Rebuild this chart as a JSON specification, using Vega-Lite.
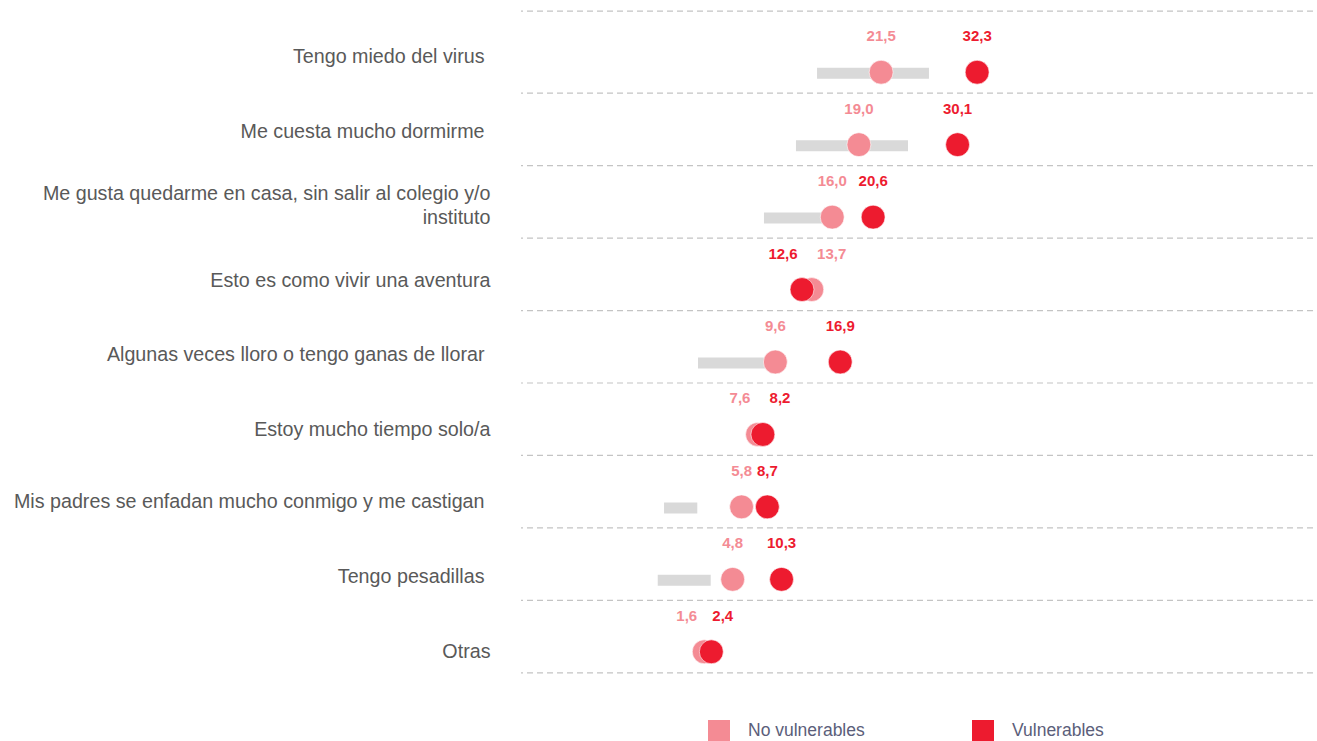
{
  "$schema": "https://vega.github.io/schema/vega-lite/v6.json",
  "width": 792,
  "height": 652,
  "autosize": {"type": "none"},
  "padding": {"left": 521, "top": 36, "right": 4, "bottom": 53},
  "background": "white",
  "config": {
    "view": {"stroke": null},
    "locale": {"number": {"decimal": ",", "thousands": ".", "grouping": [3], "currency": ["", " €"]}}
  },
  "datasets": {
    "puntos": [
      {"cat": "Tengo miedo del virus", "grupo": "No vulnerables", "valor": 21.5, "etiquetaX": 21.5},
      {"cat": "Me cuesta mucho dormirme", "grupo": "No vulnerables", "valor": 19.0, "etiquetaX": 19.0},
      {"cat": "Me gusta quedarme en casa, sin salir al colegio y/o instituto", "grupo": "No vulnerables", "valor": 16.0, "etiquetaX": 16.0},
      {"cat": "Esto es como vivir una aventura", "grupo": "No vulnerables", "valor": 13.7, "etiquetaX": 15.94},
      {"cat": "Algunas veces lloro o tengo ganas de llorar", "grupo": "No vulnerables", "valor": 9.6, "etiquetaX": 9.6},
      {"cat": "Estoy mucho tiempo solo/a", "grupo": "No vulnerables", "valor": 7.6, "etiquetaX": 5.62},
      {"cat": "Mis padres se enfadan mucho conmigo y me castigan", "grupo": "No vulnerables", "valor": 5.8, "etiquetaX": 5.8},
      {"cat": "Tengo pesadillas", "grupo": "No vulnerables", "valor": 4.8, "etiquetaX": 4.8},
      {"cat": "Otras", "grupo": "No vulnerables", "valor": 1.6, "etiquetaX": -0.37},
      {"cat": "Tengo miedo del virus", "grupo": "Vulnerables", "valor": 32.3, "etiquetaX": 32.3},
      {"cat": "Me cuesta mucho dormirme", "grupo": "Vulnerables", "valor": 30.1, "etiquetaX": 30.1},
      {"cat": "Me gusta quedarme en casa, sin salir al colegio y/o instituto", "grupo": "Vulnerables", "valor": 20.6, "etiquetaX": 20.6},
      {"cat": "Esto es como vivir una aventura", "grupo": "Vulnerables", "valor": 12.6, "etiquetaX": 10.46},
      {"cat": "Algunas veces lloro o tengo ganas de llorar", "grupo": "Vulnerables", "valor": 16.9, "etiquetaX": 16.9},
      {"cat": "Estoy mucho tiempo solo/a", "grupo": "Vulnerables", "valor": 8.2, "etiquetaX": 10.12},
      {"cat": "Mis padres se enfadan mucho conmigo y me castigan", "grupo": "Vulnerables", "valor": 8.7, "etiquetaX": 8.7},
      {"cat": "Tengo pesadillas", "grupo": "Vulnerables", "valor": 10.3, "etiquetaX": 10.3},
      {"cat": "Otras", "grupo": "Vulnerables", "valor": 2.4, "etiquetaX": 3.68}
    ],
    "rangos": [
      {"cat": "Tengo miedo del virus", "desde": 14.29, "hasta": 26.88},
      {"cat": "Me cuesta mucho dormirme", "desde": 11.92, "hasta": 24.52},
      {"cat": "Me gusta quedarme en casa, sin salir al colegio y/o instituto", "desde": 8.32, "hasta": 16.0},
      {"cat": "Algunas veces lloro o tengo ganas de llorar", "desde": 0.9, "hasta": 9.6},
      {"cat": "Mis padres se enfadan mucho conmigo y me castigan", "desde": -2.92, "hasta": 0.82},
      {"cat": "Tengo pesadillas", "desde": -3.63, "hasta": 2.33}
    ]
  },
  "encoding": {
    "y": {
      "field": "cat",
      "type": "nominal",
      "sort": [
        "Tengo miedo del virus",
        "Me cuesta mucho dormirme",
        "Me gusta quedarme en casa, sin salir al colegio y/o instituto",
        "Esto es como vivir una aventura",
        "Algunas veces lloro o tengo ganas de llorar",
        "Estoy mucho tiempo solo/a",
        "Mis padres se enfadan mucho conmigo y me castigan",
        "Tengo pesadillas",
        "Otras"
      ],
      "scale": {"type": "band", "paddingInner": 0, "paddingOuter": 0},
      "axis": {
        "title": null,
        "domain": false,
        "ticks": false,
        "grid": false,
        "labelPadding": {
          "condition": {
            "test": "datum.value == 'Tengo miedo del virus' || datum.value == 'Me cuesta mucho dormirme' || datum.value == 'Algunas veces lloro o tengo ganas de llorar' || datum.value == 'Mis padres se enfadan mucho conmigo y me castigan' || datum.value == 'Tengo pesadillas'",
            "value": 37
          },
          "value": 31
        },
        "labelFont": "Liberation Sans",
        "labelFontSize": 19.7,
        "labelColor": "#595959",
        "labelLimit": 520,
        "labelOffset": {
          "condition": [
            {"test": "datum.value == 'Tengo miedo del virus'", "value": -15},
            {"test": "datum.value == 'Me cuesta mucho dormirme'", "value": -13},
            {"test": "datum.value == 'Me gusta quedarme en casa, sin salir al colegio y/o instituto'", "value": -23},
            {"test": "datum.value == 'Esto es como vivir una aventura'", "value": -9},
            {"test": "datum.value == 'Algunas veces lloro o tengo ganas de llorar'", "value": -7},
            {"test": "datum.value == 'Estoy mucho tiempo solo/a'", "value": -4},
            {"test": "datum.value == 'Mis padres se enfadan mucho conmigo y me castigan'", "value": -5},
            {"test": "datum.value == 'Tengo pesadillas'", "value": -2}
          ],
          "value": 0
        },
        "labelLineHeight": 24,
        "labelExpr": "datum.label == 'Me gusta quedarme en casa, sin salir al colegio y/o instituto' ? ['Me gusta quedarme en casa, sin salir al colegio y/o', 'instituto'] : datum.label"
      }
    }
  },
  "layer": [
    {
      "data": {"name": "puntos"},
      "transform": [{"filter": "datum.grupo == 'Vulnerables'"}],
      "mark": {"type": "rule", "stroke": "#c4c4c4", "strokeWidth": 1.2, "strokeDash": [6, 4], "yOffset": 21},
      "encoding": {}
    },
    {
      "data": {"name": "puntos"},
      "transform": [{"filter": "datum.grupo == 'Vulnerables' && datum.cat == 'Tengo miedo del virus'"}],
      "mark": {"type": "rule", "stroke": "#c4c4c4", "strokeWidth": 1.2, "strokeDash": [6, 4], "yOffset": -61},
      "encoding": {}
    },
    {
      "data": {"name": "rangos"},
      "mark": {"type": "bar", "size": 11, "color": "#d9d9d9", "yOffset": 1},
      "encoding": {
        "x": {"field": "desde", "type": "quantitative", "scale": {"domain": [-19.01, 70.08], "nice": false, "zero": false}, "axis": null},
        "x2": {"field": "hasta"}
      }
    },
    {
      "data": {"name": "puntos"},
      "mark": {"type": "circle", "size": 572, "opacity": 1, "stroke": "#ffffff", "strokeWidth": 1, "strokeOpacity": 0.6},
      "encoding": {
        "x": {"field": "valor", "type": "quantitative", "scale": {"domain": [-19.01, 70.08], "nice": false, "zero": false}, "axis": null},
        "color": {
          "field": "grupo",
          "type": "nominal",
          "scale": {"domain": ["No vulnerables", "Vulnerables"], "range": ["#f48b94", "#ed1b2f"]},
          "legend": {
            "title": null,
            "orient": "none",
            "legendX": 187,
            "legendY": 684,
            "direction": "horizontal",
            "symbolType": "square",
            "symbolSize": 484,
            "symbolStrokeWidth": 0,
            "symbolOpacity": 1,
            "labelFont": "Liberation Sans",
            "labelFontSize": 17.5,
            "labelColor": "#5b5e7a",
            "labelOffset": 18,
            "columnPadding": 107,
            "labelLimit": 300
          }
        }
      }
    },
    {
      "data": {"name": "puntos"},
      "mark": {"type": "text", "dy": -36, "font": "Liberation Sans", "fontSize": 15, "fontWeight": "bold", "baseline": "middle", "align": "center"},
      "encoding": {
        "x": {"field": "etiquetaX", "type": "quantitative", "scale": {"domain": [-19.01, 70.08], "nice": false, "zero": false}, "axis": null},
        "text": {"field": "valor", "type": "quantitative", "format": ".1f"},
        "color": {"field": "grupo", "type": "nominal", "legend": null}
      }
    }
  ]
}
